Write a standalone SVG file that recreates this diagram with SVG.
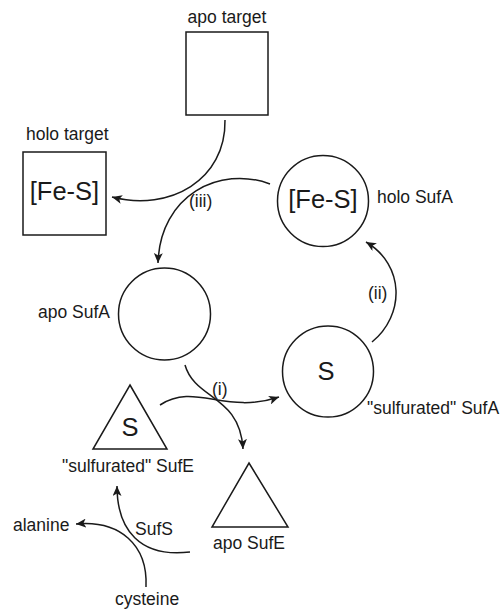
<svg xmlns="http://www.w3.org/2000/svg" width="500" height="614" viewBox="0 0 500 614">
<defs>
<style>
.shape{fill:none;stroke:#1a1a1a;stroke-width:1.5}
.conn{fill:none;stroke:#1a1a1a;stroke-width:1.5;marker-end:url(#ah)}
text{font-family:"Liberation Sans",Arial,sans-serif;fill:#1a1a1a}
.lbl{font-size:17.5px}
.big{font-size:25.5px}
.c{text-anchor:middle}
</style>
<marker id="ah" markerUnits="userSpaceOnUse" markerWidth="11" markerHeight="9" refX="10" refY="4.5" orient="auto" viewBox="0 0 11 9">
<path d="M0,0 L10,4.5 L0,9 L2.5,4.5 z" fill="#1a1a1a"/>
</marker>
</defs>
<rect width="500" height="614" fill="#fff"/>

<g id="apo-target">
<rect class="shape" x="186" y="32" width="82" height="83"/>
<text class="lbl c" x="227" y="23">apo target</text>
</g>
<g id="holo-target">
<rect class="shape" x="23" y="152" width="83" height="83"/>
<text class="lbl" x="26" y="140">holo target</text>
<text class="big c" x="64.5" y="200">[Fe-S]</text>
</g>
<g id="holo-SufA">
<circle class="shape" cx="323" cy="201" r="45.5"/>
<text class="big c" x="323" y="208">[Fe-S]</text>
<text class="lbl" x="377" y="203">holo SufA</text>
</g>
<g id="apo-SufA">
<circle class="shape" cx="164.5" cy="314" r="46"/>
<text class="lbl" x="38" y="318">apo SufA</text>
</g>
<g id="sulfurated-SufA">
<circle class="shape" cx="328" cy="371.5" r="45.5"/>
<text class="big c" x="326" y="380">S</text>
<text class="lbl" x="367" y="414">"sulfurated" SufA</text>
</g>
<g id="sulfurated-SufE">
<polygon class="shape" points="130,385 167,449 93,449"/>
<text class="big c" x="130" y="436">S</text>
<text class="lbl c" x="128" y="472">"sulfurated" SufE</text>
</g>
<g id="apo-SufE">
<polygon class="shape" points="249,463 288,527 212,527"/>
<text class="lbl c" x="249" y="549">apo SufE</text>
</g>
<g id="alanine"><text class="lbl" x="13" y="531">alanine</text></g>
<g id="cysteine"><text class="lbl" x="115" y="605">cysteine</text></g>

<g id="connectors">
<path class="conn" d="M225,120 C226,180 170,212 112,197"/>
<path class="conn" d="M270,184 C220,165 160,195 158,263"/>
<path class="conn" d="M372,342 C405,315 405,265 366,242"/>
<path class="conn" d="M185,365 C195,400 240,395 243,449"/>
<path class="conn" d="M160,405 C195,382 225,415 279,397"/>
<path class="conn" d="M190,552 C140,558 117,530 117,486"/>
<path class="conn" d="M146,587 C148,545 120,520 76,524"/>
<text class="lbl" x="189" y="207">(iii)</text>
<text class="lbl" x="368" y="299">(ii)</text>
<text class="lbl" x="212" y="395">(i)</text>
<text class="lbl" x="135" y="535">SufS</text>
</g>
</svg>
